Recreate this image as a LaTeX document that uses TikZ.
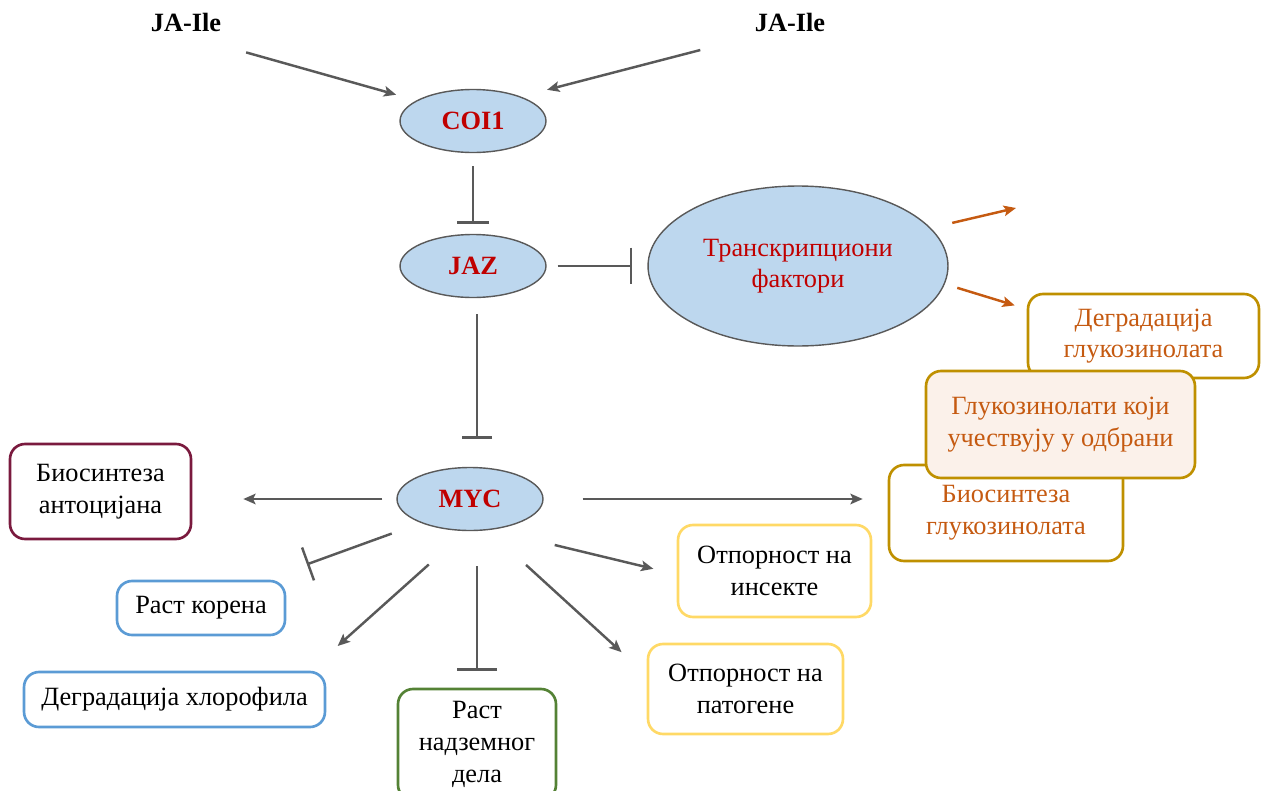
\documentclass[tikz,border=0pt]{standalone}
\usepackage{fontspec}
\setmainfont{Liberation Serif}
\usetikzlibrary{arrows.meta,shapes.geometric}
\definecolor{ellfill}{HTML}{BDD7EE}
\definecolor{ellline}{HTML}{595959}
\definecolor{darkred}{HTML}{C00000}
\definecolor{lineg}{HTML}{595959}
\definecolor{orng}{HTML}{C55A11}
\definecolor{gold}{HTML}{BF9000}
\definecolor{peach}{HTML}{FBF1EA}
\definecolor{wine}{HTML}{7A1A3E}
\definecolor{sky}{HTML}{5B9BD5}
\definecolor{leaf}{HTML}{548235}
\definecolor{sand}{HTML}{FFD966}

\begin{document}
\begin{tikzpicture}[x=0.02cm, y=-0.02cm,
    every node/.style={font=\fontsize{15}{18}\selectfont},
    lbl/.style={font=\fontsize{15}{18}\selectfont\bfseries},
    ell/.style={ellipse, draw=ellline, fill=ellfill, line width=0.8pt, minimum width=2.92cm, minimum height=1.26cm, text=darkred, font=\fontsize{15}{18}\selectfont\bfseries},
    box/.style={rectangle, rounded corners=0.3cm, line width=1.5pt, align=center, inner sep=0pt},
    arr/.style={draw=lineg, line width=1.4pt, -{Stealth[length=7pt,width=6pt,inset=1.5pt]}},
    oarr/.style={draw=orng, line width=1.4pt, -{Stealth[length=7pt,width=6pt,inset=1.5pt]}},
    inh/.style={draw=lineg, line width=1.4pt, -{Bar[width=#1]}}]
    \useasboundingbox (0,0) rectangle (1261,791);
    \clip (0,0) rectangle (1261,791);

    \node[lbl] (ja1) at (186,22) {JA-Ile};
    \node[lbl] (ja2) at (790,22) {JA-Ile};
    \node[ell] (coi) at (473,121) {COI1};
    \node[ell] (jaz) at (473,266) {JAZ};
    \node[ell, minimum width=6cm, minimum height=3.2cm, align=center, font=\fontsize{15}{18}\selectfont] (tf) at (798,266) {Транскрипциони\\фактори};
    \node[ell] (myc) at (470,499) {MYC};
    \coordinate (tfa) at (1016,208);

    \node[box, draw=gold, text=orng, minimum width=4.62cm, minimum height=1.68cm] (dg) at (1143.5,336) {Деградација\\глукозинолата};
    \node[box, draw=gold, text=orng, minimum width=4.68cm, minimum height=1.92cm] (bg) at (1006,513) {Биосинтеза\\глукозинолата};
    \node[box, draw=gold, fill=peach, text=orng, minimum width=5.38cm, minimum height=2.14cm] (gk) at (1060.5,424.5) {Глукозинолати који\\учествују у одбрани};
    \node[box, draw=wine, minimum width=3.62cm, minimum height=1.9cm] (ba) at (100.5,491.5) {Биосинтеза\\антоцијана};
    \node[box, draw=sky, minimum width=3.36cm, minimum height=1.08cm] (kor) at (201,608) {Раст корена};
    \node[box, draw=sky, minimum width=6.02cm, minimum height=1.1cm] (hl) at (174.5,699.5) {Деградација хлорофила};
    \node[box, draw=leaf, minimum width=3.16cm, minimum height=2.22cm] (nd) at (477,744.5) {Раст\\надземног\\дела};
    \node[box, draw=sand, minimum width=3.86cm, minimum height=1.84cm] (oi) at (774.5,571) {Отпорност на\\инсекте};
    \node[box, draw=sand, minimum width=3.9cm, minimum height=1.8cm] (op) at (745.5,689) {Отпорност на\\патогене};

    % стрелице
    \draw[arr, shorten <=1.1cm, shorten >=0.42cm] (ja1.-65) -- (coi.160);
    \draw[arr, shorten <=1.0cm, shorten >=0.54cm] (ja2.south west) -- (coi.27);
    \draw[inh=0.64cm, shorten <=0.26cm, shorten >=0.2cm] (coi) -- (jaz);
    \draw[inh=0.74cm, shorten <=0.22cm, shorten >=0.3cm] (jaz) -- (tf);
    \draw[inh=0.6cm, shorten <=0.32cm, shorten >=0.56cm] (nd.north |- jaz.south) -- (nd.north |- myc.north);
    \draw[oarr, shorten <=0.44cm] (tf.16) -- (tfa);
    \draw[oarr, shorten <=0.26cm, shorten >=0.25cm] (tf.-7.5) -- (dg.167.1);
    \draw[arr, shorten <=0.78cm, shorten >=0.5cm] (myc.east) -- (myc.east -| bg.west);
    \draw[arr, shorten <=0.28cm, shorten >=1.02cm] (myc.west) -- (myc.west -| ba.east);
    \draw[inh=0.7cm, shorten <=0.62cm, shorten >=0.9cm] (myc.-154.8) -- (kor.24.8);
    \draw[arr, shorten <=1.0cm, shorten >=0.74cm] (myc.263.6) -- (hl.12.65);
    \draw[inh=0.8cm, shorten <=0.7cm, shorten >=0.34cm] (nd.north |- myc.south) -- (nd.north);
    \draw[arr, shorten <=1.3cm, shorten >=0.48cm] (myc.-55) -- (oi.182);
    \draw[arr, shorten <=1.03cm, shorten >=0.68cm] (myc.-60.3) -- (op.172.2);
\end{tikzpicture}
\end{document}
